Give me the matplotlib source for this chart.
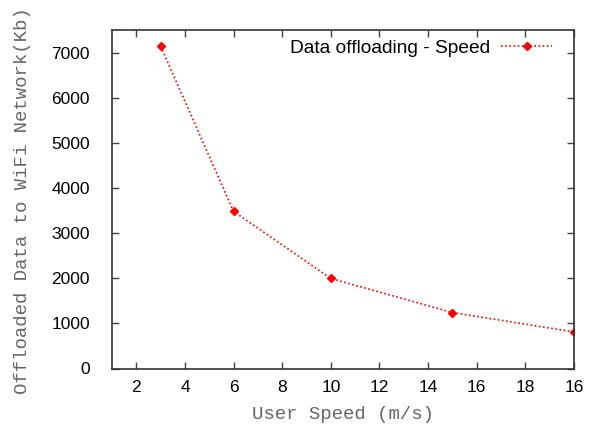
import matplotlib
matplotlib.use("Agg")
import matplotlib.pyplot as plt

speeds = [3, 6, 10, 15, 20]
offloaded = [7140, 3480, 1995, 1240, 810]
xtick_pos = [2, 4, 6, 8, 10, 12, 14, 16, 18, 20]
xtick_labels = ["2", "4", "6", "8", "10", "12", "14", "16", "18", "16"]
ytick_pos = [0, 1000, 2000, 3000, 4000, 5000, 6000, 7000]

fig = plt.figure(figsize=(5.97, 4.30), dpi=100)
ax = fig.add_axes([112/597, 1-368.5/430, (574-112)/597, (368.5-30)/430])

ax.plot(speeds, offloaded, color="red", linestyle=(0, (1, 1.5)), linewidth=1.2,
        marker="D", markersize=4.5, label="Data offloading - Speed")

ax.set_xlim(1, 20)
ax.set_ylim(0, 7500)
ax.set_xticks(xtick_pos)
ax.set_xticklabels(xtick_labels)
ax.set_yticks(ytick_pos)

for lab in ax.get_xticklabels() + ax.get_yticklabels():
    lab.set_fontfamily(["Liberation Sans", "DejaVu Sans"])
    lab.set_fontsize(12.5)

ax.tick_params(direction="in", top=True, right=True, length=5, width=1, color="#444444")
ax.tick_params(axis="x", pad=8)
ax.tick_params(axis="y", pad=16)
for s in ax.spines.values():
    s.set_linewidth(1.2)
    s.set_color("#333333")

labfont = dict(family=["Liberation Mono", "DejaVu Sans Mono"], size=13.7, color="#666666")
ax.set_xlabel("User Speed (m/s)", labelpad=8, **labfont)
ylab = ax.set_ylabel("Offloaded Data to WiFi Network(Kb)", labelpad=14, **labfont)
ax.yaxis.set_label_coords(-0.176, 0.497)

leg = ax.legend(loc="upper right", frameon=False,
                prop={"family": ["Liberation Sans", "DejaVu Sans"], "size": 13.8},
                handlelength=2.65, handletextpad=0.6, markerfirst=False,
                borderaxespad=0.0, bbox_to_anchor=(0.969, 0.995))

fig.savefig("out.png", dpi=100)
